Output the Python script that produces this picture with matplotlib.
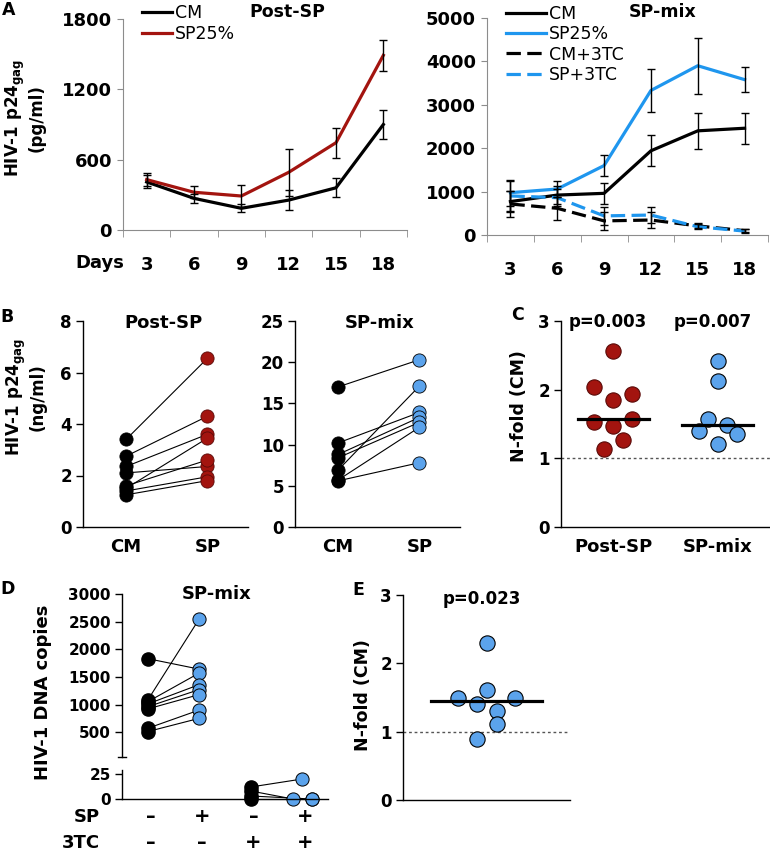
import numpy as np
import matplotlib
matplotlib.use('Agg')
import matplotlib.pyplot as plt
from matplotlib import transforms

plt.rcParams['font.family'] = ['DejaVu Sans']
plt.rcParams['font.weight'] = 'bold'
plt.rcParams['mathtext.fontset'] = 'custom'
plt.rcParams['mathtext.rm'] = 'DejaVu Sans:bold'
plt.rcParams['mathtext.bf'] = 'DejaVu Sans:bold'

W, H = 770, 852

RED = '#a3140f'
RED_EDGE = '#5a0a08'
BLUE_LINE = '#1f96ee'
BLUE_DOT = '#5ba3ec'
GREY = '#8c8c8c'

# ---- panel A data (pg/ml) ----
days = [3, 6, 9, 12, 15, 18]
post_cm = [410, 270, 185, 255, 360, 900]
post_cm_err = [55, 40, 35, 85, 80, 120]
post_sp = [430, 322, 290, 492, 745, 1490]
post_sp_err = [55, 50, 90, 200, 128, 130]

mix_cm = [770, 920, 960, 1940, 2400, 2460]
mix_cm_err = [250, 200, 240, 360, 410, 355]
mix_sp = [975, 1060, 1600, 3330, 3900, 3580]
mix_sp_err = [300, 190, 250, 500, 640, 280]
mix_cm3tc = [715, 615, 325, 345, 210, 100]
mix_cm3tc_err = [300, 270, 200, 190, 60, 40]
mix_sp3tc = [900, 860, 440, 460, 190, 90]
mix_sp3tc_err = [350, 200, 200, 180, 60, 40]

# ---- panel B data (ng/ml), paired CM -> SP ----
b_post_cm = [3.4, 2.75, 2.35, 2.1, 1.5, 1.6, 1.4, 1.25]
b_post_sp = [6.55, 4.3, 3.6, 2.35, 3.45, 2.6, 1.95, 1.8]
b_mix_cm = [17.0, 10.2, 8.8, 8.4, 6.9, 5.7, 5.6]
b_mix_sp = [20.3, 13.9, 13.3, 12.7, 17.1, 12.1, 7.8]

# ---- panel C data (N-fold over CM) ----
c_post = [2.56, 2.04, 1.93, 1.85, 1.53, 1.57, 1.47, 1.26, 1.13]
c_post_dx = [0, -0.18, 0.18, 0, -0.18, 0.18, 0, 0.09, -0.09]
c_mix = [2.42, 2.13, 1.57, 1.40, 1.48, 1.36, 1.21]
c_mix_dx = [0, 0, -0.09, -0.18, 0.09, 0.18, 0]
c_groups = ['Post-SP', 'SP-mix']
c_pvals = ['p=0.003', 'p=0.007']

# ---- panel D data (DNA copies) ----
d_cm = [1830, 1080, 1050, 1010, 960, 920, 570, 510]
d_sp = [1640, 2550, 1570, 1360, 1270, 1180, 900, 750]
d_cm3tc = [12, 8, 3, 0]
d_sp3tc = [20, 0, 0, 0]
d_sp3tc_dx = [0, -0.18, 0.18, 0.18]
d_sp_row = ['–', '+', '–', '+']
d_3tc_row = ['–', '–', '+', '+']

# ---- panel E data ----
e_vals = [2.30, 1.61, 1.50, 1.50, 1.41, 1.30, 1.11, 0.90]
e_dx = [0, 0, -0.17, 0.17, -0.056, 0.06, 0.06, -0.056]


def box(l, t, r, b):
    return [l / W, 1 - b / H, (r - l) / W, (b - t) / H]


def fx(x):
    return x / W


def fy(y):
    return 1 - y / H


fig = plt.figure(figsize=(W / 100, H / 100), dpi=100)


def excel_axes(ax, ymax, step):
    x = np.arange(len(days))
    ax.set_xlim(-0.5, len(days) - 0.5)
    ax.set_ylim(0, ymax)
    ax.set_yticks(np.arange(0, ymax + 1, step))
    ax.set_xticks(x)
    ax.set_xticklabels([str(d) for d in days])
    ax.set_xticks(np.arange(-0.5, len(days)), minor=True)
    for s in ['top', 'right']:
        ax.spines[s].set_visible(False)
    for s in ['left', 'bottom']:
        ax.spines[s].set_color(GREY)
    ax.tick_params(axis='x', which='major', length=0, pad=19, labelsize=13)
    ax.tick_params(axis='x', which='minor', length=5, color=GREY, direction='out')
    ax.tick_params(axis='y', length=4, color=GREY, direction='out', pad=4, labelsize=13)


def draw_series(ax, vals, err, color, dashed):
    x = np.arange(len(days))
    ax.errorbar(x, vals, yerr=err, fmt='none', ecolor='black', elinewidth=1,
                capsize=3, capthick=1, zorder=3)
    kw = dict(dashes=(4.5, 2)) if dashed else {}
    line, = ax.plot(x, vals, color=color, lw=2.3, zorder=2, **kw)
    return line


# Panel A left
axA1 = fig.add_axes(box(123, 19, 407, 230))
excel_axes(axA1, 1800, 600)
h1 = draw_series(axA1, post_cm, post_cm_err, 'black', False)
h2 = draw_series(axA1, post_sp, post_sp_err, RED, False)
fig.legend([h1, h2], ['CM', 'SP25%'], loc='upper left',
           bbox_to_anchor=(fx(133), fy(-5)), frameon=False, borderpad=0,
           handlelength=1.75, handletextpad=0.15, labelspacing=0.2,
           prop=dict(size=12.5, weight='normal'))
fig.text(fx(287), fy(12), 'Post-SP', ha='center', va='center', fontsize=12.5)
fig.text(fx(100), fy(263), 'Days', ha='center', va='center', fontsize=13)

# Panel A right
axA2 = fig.add_axes(box(487, 18, 768, 235))
excel_axes(axA2, 5000, 1000)
g1 = draw_series(axA2, mix_cm, mix_cm_err, 'black', False)
g2 = draw_series(axA2, mix_sp, mix_sp_err, BLUE_LINE, False)
g3 = draw_series(axA2, mix_cm3tc, mix_cm3tc_err, 'black', True)
g4 = draw_series(axA2, mix_sp3tc, mix_sp3tc_err, BLUE_LINE, True)
fig.legend([g1, g2, g3, g4], ['CM', 'SP25%', 'CM+3TC', 'SP+3TC'], loc='upper left',
           bbox_to_anchor=(fx(497), fy(-4)), frameon=False, borderpad=0,
           handlelength=2.35, handletextpad=0.15, labelspacing=0.14,
           prop=dict(size=12.5, weight='normal'))
fig.text(fx(663), fy(12), 'SP-mix', ha='center', va='center', fontsize=12.5)

fig.text(fx(15), fy(118), 'HIV-1 p24$_{\\mathbf{gag}}$', rotation=90,
         ha='center', va='center', fontsize=12)
fig.text(fx(37), fy(118), '(pg/ml)', rotation=90, ha='center', va='center', fontsize=12)
fig.text(fx(9), fy(10), 'A', ha='center', va='center', fontsize=12.5)


def prism_axes(ax, ylim, yticks, ticklabelsize=12):
    for s in ['top', 'right']:
        ax.spines[s].set_visible(False)
    for s in ['left', 'bottom']:
        ax.spines[s].set_linewidth(1)
    ax.set_ylim(*ylim)
    ax.set_yticks(yticks)
    ax.tick_params(axis='y', length=5, width=1, direction='out', pad=3,
                   labelsize=ticklabelsize)
    ax.tick_params(axis='x', length=0, pad=8, labelsize=13)


def pair_panel(ax, a, b, color, edge):
    for ya, yb in zip(a, b):
        ax.plot([0, 1], [ya, yb], color='black', lw=0.8, zorder=1)
    ax.plot(np.zeros(len(a)), a, 'o', ms=9.5, mfc='black', mec='black', mew=0.6,
            zorder=2, clip_on=False)
    ax.plot(np.ones(len(b)), b, 'o', ms=9.5, mfc=color, mec=edge, mew=0.6,
            zorder=2, clip_on=False)
    ax.set_xlim(-0.53, 1.5)
    ax.set_xticks([0, 1])
    ax.set_xticklabels(['CM', 'SP'])


# Panel B
axB1 = fig.add_axes(box(83, 321, 248, 527))
prism_axes(axB1, (0, 8), [0, 2, 4, 6, 8])
pair_panel(axB1, b_post_cm, b_post_sp, RED, RED_EDGE)
fig.text(fx(163), fy(323), 'Post-SP', ha='center', va='center', fontsize=13)

axB2 = fig.add_axes(box(295, 321, 460, 527))
prism_axes(axB2, (0, 25), [0, 5, 10, 15, 20, 25])
pair_panel(axB2, b_mix_cm, b_mix_sp, BLUE_DOT, 'black')
fig.text(fx(380), fy(323), 'SP-mix', ha='center', va='center', fontsize=13)

fig.text(fx(16), fy(397), 'HIV-1 p24$_{\\mathbf{gag}}$', rotation=90,
         ha='center', va='center', fontsize=12)
fig.text(fx(38), fy(397), '(ng/ml)', rotation=90, ha='center', va='center', fontsize=12)
fig.text(fx(7), fy(317), 'B', ha='center', va='center', fontsize=12.5)


def dots(ax, xc, vals, dx, color, edge, half=0.34):
    ax.plot(xc + np.array(dx), vals, 'o', ms=11, mfc=color, mec=edge, mew=0.8,
            zorder=3, clip_on=False)
    m = np.median(vals)
    ax.plot([xc - half, xc + half], [m, m], color='black', lw=2.3, zorder=4)


# Panel C
axC = fig.add_axes(box(561, 321, 770, 527))
prism_axes(axC, (0, 3), [0, 1, 2, 3])
axC.axhline(1, color='#555555', lw=1, ls=(0, (2, 2)), zorder=1)
dots(axC, 0, c_post, c_post_dx, RED, RED_EDGE)
dots(axC, 1, c_mix, c_mix_dx, BLUE_DOT, 'black')
axC.set_xlim(-0.5, 1.5)
axC.set_xticks([0, 1])
axC.set_xticklabels(c_groups)
for i, p in enumerate(c_pvals):
    axC.text(i - 0.05, 2.99, p, ha='center', va='center', fontsize=12)
fig.text(fx(519), fy(406), 'N-fold (CM)', rotation=90, ha='center', va='center',
         fontsize=12.5)
fig.text(fx(517), fy(315), 'C', ha='center', va='center', fontsize=12.5)

# Panel D, broken axis
axD1 = fig.add_axes(box(122, 594, 328, 757))
axD2 = fig.add_axes(box(122, 770, 328, 799))
prism_axes(axD1, (50, 3000), [500, 1000, 1500, 2000, 2500, 3000], 11)
prism_axes(axD2, (0, 29), [0, 25], 11)
axD1.spines['bottom'].set_visible(False)
axD1.set_xticks([])
axD2.set_xticks([])
axD1.plot([-0.018, 0.018], [0, 0], transform=axD1.transAxes, color='black',
          lw=1, clip_on=False)
for ya, yb in zip(d_cm, d_sp):
    axD1.plot([0, 1], [ya, yb], color='black', lw=0.8, zorder=1)
axD1.plot(np.zeros(len(d_cm)), d_cm, 'o', ms=9.5, mfc='black', mec='black', zorder=2)
axD1.plot(np.ones(len(d_sp)), d_sp, 'o', ms=9.5, mfc=BLUE_DOT, mec='black', mew=0.7,
          zorder=2)
x3 = 3 + np.array(d_sp3tc_dx)
for ya, yb, xb in zip(d_cm3tc, d_sp3tc, x3):
    axD2.plot([2, xb], [ya, yb], color='black', lw=0.8, zorder=1, clip_on=False)
axD2.plot(np.full(len(d_cm3tc), 2), d_cm3tc, 'o', ms=9.5, mfc='black', mec='black',
          zorder=2, clip_on=False)
axD2.plot(x3, d_sp3tc, 'o', ms=9.5, mfc=BLUE_DOT, mec='black', mew=0.7, zorder=2,
          clip_on=False)
for a in (axD1, axD2):
    a.set_xlim(-0.5, 3.5)
tr = transforms.blended_transform_factory(axD2.transData, fig.transFigure)
for i, (s, t) in enumerate(zip(d_sp_row, d_3tc_row)):
    axD2.text(i + 0.05, fy(817), s, transform=tr, ha='center', va='center', fontsize=14)
    axD2.text(i + 0.05, fy(843), t, transform=tr, ha='center', va='center', fontsize=14)
fig.text(fx(100), fy(817), 'SP', ha='right', va='center', fontsize=13)
fig.text(fx(100), fy(843), '3TC', ha='right', va='center', fontsize=13)
fig.text(fx(217), fy(594), 'SP-mix', ha='center', va='center', fontsize=13)
fig.text(fx(43), fy(692), 'HIV-1 DNA copies', rotation=90, ha='center', va='center',
         fontsize=13)
fig.text(fx(8), fy(589), 'D', ha='center', va='center', fontsize=12.5)

# Panel E
axE = fig.add_axes(box(403, 595, 570, 800))
prism_axes(axE, (0, 3), [0, 1, 2, 3])
axE.axhline(1, color='#555555', lw=1, ls=(0, (2, 2)), zorder=1)
dots(axE, 0, e_vals, e_dx, BLUE_DOT, 'black', half=0.33)
axE.set_xlim(-0.5, 0.5)
axE.set_xticks([])
axE.text(-0.03, 2.94, 'p=0.023', ha='center', va='center', fontsize=12)
fig.text(fx(363), fy(695), 'N-fold (CM)', rotation=90, ha='center', va='center',
         fontsize=12.5)
fig.text(fx(358), fy(590), 'E', ha='center', va='center', fontsize=12.5)

fig.savefig('out.png', dpi=100)
